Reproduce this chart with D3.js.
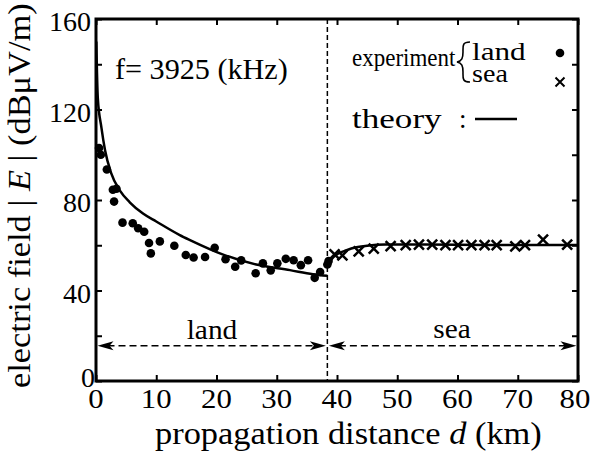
<!DOCTYPE html>
<html>
<head>
<meta charset="utf-8">
<script src="https://cdn.jsdelivr.net/npm/d3@7"></script>
<style>
  body { margin: 0; background: #fff; }
  svg { display: block; }
</style>
</head>
<body>
<svg id="chart"></svg>
<script>
// measured field strength over land (km, dBuV/m)
var landDist = [0.5, 0.8, 1.8, 2.8, 3.4, 3.0, 4.4, 6.1, 7.0, 8.0, 8.8, 9.1, 10.6, 13.0, 14.9, 16.2,
  18.1, 19.7, 21.5, 23.1, 24.1, 26.5, 27.7, 29.0, 30.1, 31.5, 32.8, 34.0, 35.2, 36.3, 37.2, 38.4, 38.6];
var landField = [103, 100, 93.5, 84.5, 85, 79.3, 70, 69.7, 67.5, 66, 61, 56.4, 61.7, 59.8, 55.7, 54.6,
  54.8, 58.9, 53.8, 50.5, 53.3, 47.6, 52, 48.9, 52, 54, 53.4, 51.2, 53.4, 45.6, 48.2, 51.5, 53];

// measured over sea
var seaDist = [39.6, 40.9, 43.6, 46.1, 48.9, 51.4, 53.6, 55.8, 58.0, 60.1, 62.3, 64.5, 66.5, 69.6, 71.2, 74.2, 78.2];
var seaField = [56, 55.5, 57.3, 58.5, 59.6, 60.1, 60.3, 60.3, 60.1, 60.1, 60.1, 60.1, 60.1, 59.5, 60.1, 62.5, 60.3];

// theory curves
var theoryLandDist = [0.05, 0.3, 0.9, 1.5, 2.5, 4, 5.6, 7.8, 10, 13.9, 15.6, 21, 26.6, 32.2, 36, 38.4];
var theoryLandField = [150, 125, 112, 102, 92, 84, 79, 74, 70.5, 64.5, 62.3, 56, 51.5, 49, 47.2, 46.5];
var theorySeaDist = [38.4, 39, 40, 41.6, 43, 45, 48, 52, 60, 70, 80];
var theorySeaField = [50.5, 53.5, 56, 57.8, 59, 59.8, 60.3, 60.3, 60.2, 60.1, 60.1];

var boundary = 38.4;
var xTicks = [0, 10, 20, 30, 40, 50, 60, 70, 80];
var yTicks = [0, 20, 40, 60, 80, 100, 120, 140, 160];
var yLabels = [0, 40, 80, 120, 160];

var W = 591, H = 456;
var padL = 96, padR = 578, padT = 19, padB = 381;

var svg = d3.select("#chart").attr("width", W).attr("height", H);

var x = d3.scaleLinear().domain([0, 80]).range([padL, padR]);
var y = d3.scaleLinear().domain([0, 160]).range([padB, padT]);

// text placed at (tx,ty), widened by sx like the scanned figure
function label(tx, ty, content, size, sx, anchor, rot) {
  var t = svg.append("text")
    .attr("transform", "translate(" + tx + "," + ty + ")" + (rot ? " rotate(" + rot + ")" : "") + " scale(" + sx + ",1)")
    .attr("font-family", "Liberation Serif")
    .attr("font-size", size)
    .attr("text-anchor", anchor || "start");
  t.html(content);
  return t;
}

// ticks on all four sides, pointing in
svg.append("g").attr("transform", "translate(0," + padB + ")")
  .call(d3.axisBottom(x).tickValues(xTicks).tickSizeInner(-6).tickSizeOuter(0).tickFormat(""));
svg.append("g").attr("transform", "translate(0," + padT + ")")
  .call(d3.axisTop(x).tickValues(xTicks).tickSizeInner(-6).tickSizeOuter(0).tickFormat(""));
svg.append("g").attr("transform", "translate(" + padL + ",0)")
  .call(d3.axisLeft(y).tickValues(yTicks).tickSizeInner(-6).tickSizeOuter(0).tickFormat(""));
svg.append("g").attr("transform", "translate(" + padR + ",0)")
  .call(d3.axisRight(y).tickValues(yTicks).tickSizeInner(-6).tickSizeOuter(0).tickFormat(""));
svg.selectAll(".tick line").attr("stroke", "#000").attr("stroke-width", 2);
svg.selectAll(".domain").remove();

svg.append("rect")
  .attr("x", padL).attr("y", padT)
  .attr("width", padR - padL).attr("height", padB - padT)
  .attr("fill", "none").attr("stroke", "#000").attr("stroke-width", 3);

// tick labels
xTicks.forEach(function(d) {
  label(x(d) + (d === 80 ? -3 : 0), padB + 27, String(d), 28, 1.1, "middle");
});
yLabels.forEach(function(d) {
  label(d === 0 ? padL - 1 : padL - 5, y(d) + (d === 0 ? 6 : 12), String(d), 28, 1, "end");
});

// axis titles
label(155, 444, 'propagation distance <tspan font-style="italic">d</tspan> (km)', 31, 1.11);
label(30, 388, 'electric field | <tspan font-style="italic">E</tspan> | (dBμV/m)', 31, 1.11, "start", -90);

// land / sea boundary
svg.append("line")
  .attr("x1", x(boundary)).attr("x2", x(boundary))
  .attr("y1", padT).attr("y2", padB)
  .attr("stroke", "#000").attr("stroke-width", 1.5)
  .attr("stroke-dasharray", "5,3");

// region arrows
function arrowHead(px, py, dir) {
  var L = 16, w = 4.5, back = 4;
  return "M" + px + "," + py +
    "L" + (px - dir * L) + "," + (py - w) +
    "L" + (px - dir * (L - back)) + "," + py +
    "L" + (px - dir * L) + "," + (py + w) + "Z";
}
var arrowY = 345.7;
[[0, boundary], [boundary, 80]].forEach(function(r) {
  var x0 = x(r[0]) + 1.5, x1 = x(r[1]) - 1.5;
  svg.append("line")
    .attr("x1", x0 + 10).attr("x2", x1 - 10)
    .attr("y1", arrowY).attr("y2", arrowY)
    .attr("stroke", "#000").attr("stroke-width", 1.5)
    .attr("stroke-dasharray", "7,4");
  svg.append("path").attr("d", arrowHead(x0, arrowY, -1)).attr("fill", "#000");
  svg.append("path").attr("d", arrowHead(x1, arrowY, 1)).attr("fill", "#000");
});
label(212, 339, "land", 28, 1.05, "middle");
label(452, 338, "sea", 28, 1.05, "middle");

// theory curves
var line = d3.line()
  .x(function(d) { return x(d[0]); })
  .y(function(d) { return y(d[1]); })
  .curve(d3.curveMonotoneX);

svg.append("path")
  .datum(d3.zip(theoryLandDist, theoryLandField))
  .attr("d", line)
  .attr("fill", "none").attr("stroke", "#000").attr("stroke-width", 2.5);
svg.append("path")
  .datum(d3.zip(theorySeaDist, theorySeaField))
  .attr("d", line)
  .attr("fill", "none").attr("stroke", "#000").attr("stroke-width", 2.5);

// land points
svg.selectAll(".dot").data(d3.zip(landDist, landField)).enter().append("circle")
  .attr("class", "dot")
  .attr("cx", function(d) { return x(d[0]); })
  .attr("cy", function(d) { return y(d[1]); })
  .attr("r", 4.3)
  .attr("fill", "#000");

// sea points
function cross(cx, cy, s) {
  return "M" + (cx - s) + "," + (cy - s) + "L" + (cx + s) + "," + (cy + s) +
    "M" + (cx - s) + "," + (cy + s) + "L" + (cx + s) + "," + (cy - s);
}
svg.selectAll(".cross").data(d3.zip(seaDist, seaField)).enter().append("path")
  .attr("class", "cross")
  .attr("d", function(d) { return cross(x(d[0]), y(d[1]), 5); })
  .attr("stroke", "#000").attr("stroke-width", 2.5).attr("fill", "none");

// annotation
label(115, 79, "f= 3925 (kHz)", 29, 1.04);

// legend
label(352, 66, "experiment", 25, 0.92);
svg.append("path")
  .attr("d", "M470,42 C462,42 463,46 463,52 C463,58 462,61 457,62 C462,63 463,66 463,72 C463,78 462,82 470,82")
  .attr("fill", "none").attr("stroke", "#000").attr("stroke-width", 1.6);
label(472, 60, "land", 26, 1.2);
label(472, 82, "sea", 26, 1.08);
svg.append("circle").attr("cx", 560).attr("cy", 53).attr("r", 4.3).attr("fill", "#000");
svg.append("path").attr("d", cross(560, 82, 4.5))
  .attr("stroke", "#000").attr("stroke-width", 2).attr("fill", "none");
label(352, 128, "theory", 27, 1.3);
label(459, 128, ":", 27, 1);
svg.append("line").attr("x1", 475).attr("x2", 517).attr("y1", 119).attr("y2", 119)
  .attr("stroke", "#000").attr("stroke-width", 2.5);
</script>
</body>
</html>
